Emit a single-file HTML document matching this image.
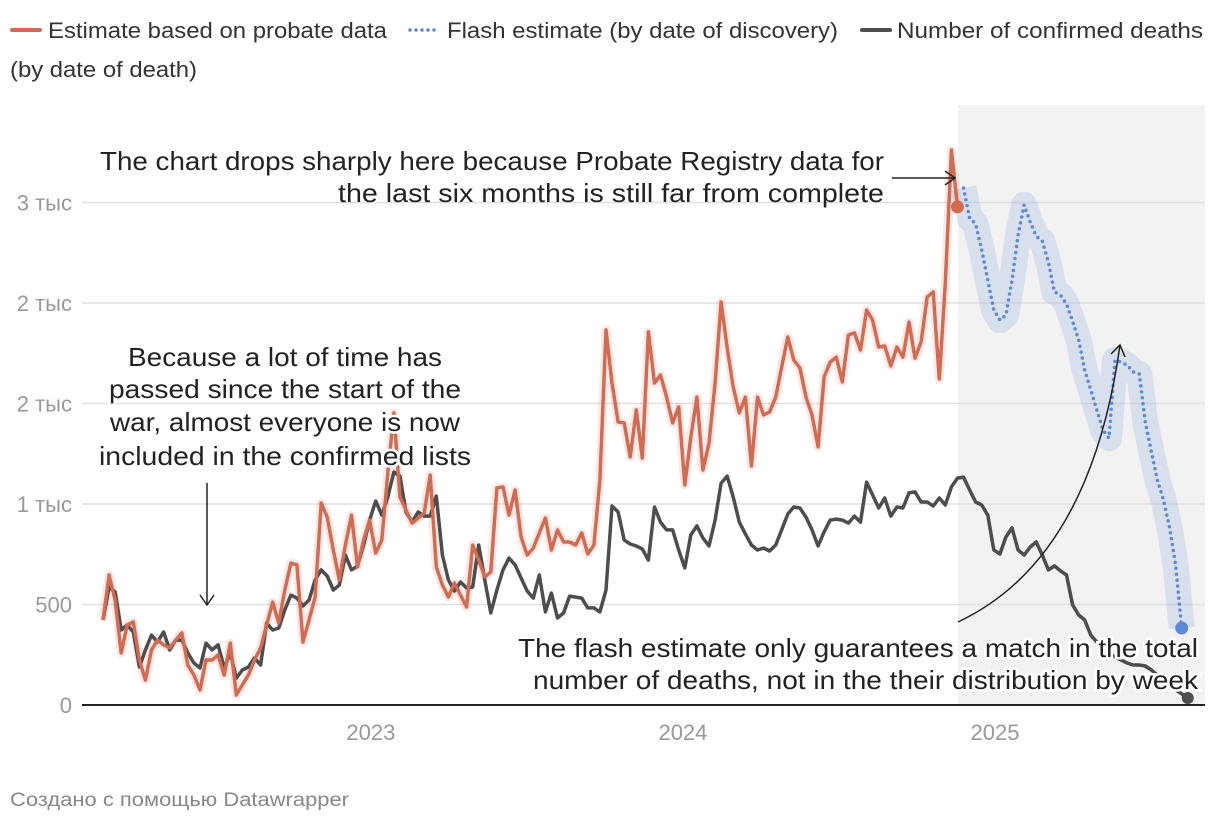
<!DOCTYPE html>
<html><head><meta charset="utf-8"><style>
html,body{margin:0;padding:0;background:#fff;}
svg{display:block;font-family:"Liberation Sans",sans-serif;}
</style></head><body>
<svg id="chart" width="1220" height="822" viewBox="0 0 1220 822" xmlns="http://www.w3.org/2000/svg">
<g id="legend">
  <g>
    <line x1="12" y1="30" x2="40" y2="30" stroke="#d36b52" stroke-width="4" stroke-linecap="round"/>
    <text x="48" y="38" font-size="22" fill="#333" textLength="339" lengthAdjust="spacingAndGlyphs">Estimate based on probate data</text>
    <text x="10" y="77" font-size="22" fill="#333" textLength="187" lengthAdjust="spacingAndGlyphs">(by date of death)</text>
  </g>
  <g>
    <line x1="410" y1="30" x2="440" y2="30" stroke="#5b8ad8" stroke-width="3.5" stroke-linecap="round" stroke-dasharray="0 6"/>
    <text x="447" y="38" font-size="22" fill="#333" textLength="391" lengthAdjust="spacingAndGlyphs">Flash estimate (by date of discovery)</text>
  </g>
  <g>
    <line x1="862" y1="30" x2="890" y2="30" stroke="#4d4d4d" stroke-width="4" stroke-linecap="round"/>
    <text x="897" y="38" font-size="22" fill="#333" textLength="306" lengthAdjust="spacingAndGlyphs">Number of confirmed deaths</text>
  </g>
</g>
<rect x="958" y="105" width="247" height="600" fill="#f2f2f2"/>
<g id="grid"></g>
<g id="xaxis"></g>
<g id="marks"></g>
<g id="annotations">
  <text font-size="26" fill="#222" text-anchor="end"><tspan x="884" y="170" textLength="784" lengthAdjust="spacingAndGlyphs">The chart drops sharply here because Probate Registry data for</tspan><tspan x="884" y="202" textLength="546" lengthAdjust="spacingAndGlyphs">the last six months is still far from complete</tspan></text>
  <line x1="892" y1="178" x2="955" y2="178" stroke="#222" stroke-width="1.5"/>
  <polyline points="945,171 955,178 945,185" fill="none" stroke="#222" stroke-width="1.5"/>
  <text font-size="26" fill="#222" text-anchor="middle" stroke="#fff" stroke-width="5" paint-order="stroke"><tspan x="285" y="366" textLength="314" lengthAdjust="spacingAndGlyphs">Because a lot of time has</tspan><tspan x="285" y="398" textLength="352" lengthAdjust="spacingAndGlyphs">passed since the start of the</tspan><tspan x="285" y="431" textLength="350" lengthAdjust="spacingAndGlyphs">war, almost everyone is now</tspan><tspan x="285" y="465" textLength="372" lengthAdjust="spacingAndGlyphs">included in the confirmed lists</tspan></text>
  <line x1="207" y1="483" x2="207" y2="605" stroke="#222" stroke-width="1.5"/>
  <polyline points="200,595 207,605 214,595" fill="none" stroke="#222" stroke-width="1.5"/>
  <path d="M958,622 Q1090,560 1120,345" fill="none" stroke="#222" stroke-width="1.5"/>
  <polyline points="1111,354 1120,345 1125,357" fill="none" stroke="#222" stroke-width="1.5"/>
  <text font-size="26" fill="#222" text-anchor="end" stroke="#fff" stroke-width="5" paint-order="stroke"><tspan x="1198" y="657" textLength="680" lengthAdjust="spacingAndGlyphs">The flash estimate only guarantees a match in the total</tspan><tspan x="1198" y="689" textLength="665" lengthAdjust="spacingAndGlyphs">number of deaths, not in the their distribution by week</tspan></text>
</g>
<text x="10" y="806" font-size="19" fill="#888" textLength="339" lengthAdjust="spacingAndGlyphs">Создано с помощью Datawrapper</text>
</svg>
<script>
const yTickValues = [0, 500, 1000, 1500, 2000, 2500];
const yTickLabels = ["0", "500", "1 тыс", "2 тыс", "2 тыс", "3 тыс"];
const xTickWeeks = [44.2, 95.7, 147.2];
const xTickLabels = ["2023", "2024", "2025"];
const probateValues = [423,647,522,259,398,413,224,124,274,323,299,284,323,358,199,149,75,224,224,249,149,308,50,100,149,224,284,
398,512,408,572,706,697,313,423,537,1005,935,771,622,796,945,687,821,920,756,821,1154,1453,1035,970,905,930,955,1144,687,597,537,607,547,488,796,721,637,662,1080,1085,945,1070,836,746,781,856,930,771,871,811,811,796,856,751,796,1119,1866,1602,1408,1403,1234,1468,1229,1856,1602,1642,1532,1403,1483,1095,1333,1532,1169,1303,1602,2005,1776,1582,1453,1532,1189,1532,1443,1458,1532,1682,1831,1716,1677,1532,1443,1284,1632,1706,1731,1607,1841,1851,1766,1965,1915,1781,1786,1687,1781,1731,1905,1726,1806,2030,2055,1622,2099,2761,2478];
const confirmedValues = [423,587,562,373,398,363,189,274,348,313,363,274,323,323,259,209,184,308,274,299,184,259,134,174,189,234,199,408,373,383,473,547,532,493,522,622,672,642,572,597,746,672,692,796,920,1015,945,1035,1159,1139,960,910,960,940,940,1040,746,622,567,612,582,587,796,622,458,572,672,731,697,632,567,532,647,463,557,433,458,542,537,532,483,483,463,572,990,960,821,801,791,776,721,985,910,871,871,771,682,846,891,831,791,920,1104,1139,1035,910,851,796,771,781,766,796,871,950,985,980,935,871,791,861,920,925,920,905,940,910,1109,1045,980,1030,940,985,980,1055,1060,1010,1010,990,1030,995,1085,1129,1134,1070,1010,995,945,771,751,836,881,771,746,786,811,746,672,692,667,647,498,448,423,348,313,284,259,239,224,209,199,199,194,174,149,124,100,75,55,35];
const flashStartWeek = 142;
const flashValues = [2572,2423,2393,2264,2114,1965,1915,1940,2114,2338,2488,2403,2333,2308,2204,2055,2040,1995,1910,1816,1666,1567,1468,1368,1328,1716,1706,1691,1657,1647,1408,1259,1119,1020,881,697,383];

const NS = "http://www.w3.org/2000/svg";
function xScale(w){ return 103 + w * 6.06; }
function yScale(v){ return 705 - v * 100.5 / 500; }
function mk(tag, attrs, parent){ const e = document.createElementNS(NS, tag); for (const k in attrs) e.setAttribute(k, attrs[k]); parent.appendChild(e); return e; }

const grid = document.getElementById('grid');
yTickValues.forEach((v, i) => {
  const y = yScale(v);
  if (v !== 0) {
    const gl = mk('line', {x1: 82, x2: 1205, y1: y, y2: y, stroke: '#e0e0e0', 'stroke-width': 1.5}, grid);
    
    
  }
  const t = mk('text', {x: 72, y: y + 8, 'font-size': 22, fill: '#999', 'text-anchor': 'end'}, grid);
  
  
  t.textContent = yTickLabels[i];
});
const xa = document.getElementById('xaxis');
xTickWeeks.forEach((w, i) => {
  const t = mk('text', {x: xScale(w), y: 740, 'font-size': 22, fill: '#999', 'text-anchor': 'middle'}, xa);
  
  
  t.textContent = xTickLabels[i];
});

const marks = document.getElementById('marks');
function pts(vals, start){ return vals.map((v, i) => xScale(start + i).toFixed(1) + ',' + yScale(v).toFixed(1)).join(' '); }

const fb = mk('polyline', {points: pts(flashValues, flashStartWeek), fill: 'none', stroke: 'rgba(90,130,215,0.17)', 'stroke-width': 26, 'stroke-linejoin': 'round', 'stroke-linecap': 'butt'}, marks);


const pb = mk('polyline', {points: pts(probateValues, 0), fill: 'none', stroke: 'rgba(214,110,85,0.15)', 'stroke-width': 9, 'stroke-linejoin': 'round'}, marks);



const baseline = mk('line', {x1: 82, x2: 1205, y1: 705, y2: 705, stroke: '#222', 'stroke-width': 2}, marks);



const cl = mk('polyline', {points: pts(confirmedValues, 0), fill: 'none', stroke: '#4d4d4d', 'stroke-width': 3.5, 'stroke-linejoin': 'round'}, marks);


const cLast = confirmedValues.length - 1;
const cd = mk('circle', {cx: xScale(cLast), cy: yScale(confirmedValues[cLast]), r: 6, fill: '#4d4d4d'}, marks);



const pl = mk('polyline', {points: pts(probateValues, 0), fill: 'none', stroke: '#d36b52', 'stroke-width': 3.5, 'stroke-linejoin': 'round'}, marks);


const pLast = probateValues.length - 1;
const pd = mk('circle', {cx: xScale(pLast), cy: yScale(probateValues[pLast]), r: 6.5, fill: '#d36b52'}, marks);



const fl = mk('polyline', {points: pts(flashValues, flashStartWeek), fill: 'none', stroke: '#5b8ad8', 'stroke-width': 3.5, 'stroke-linecap': 'round', 'stroke-dasharray': '0 6', 'stroke-linejoin': 'round'}, marks);


const fLast = flashValues.length - 1;
const fd = mk('circle', {cx: xScale(flashStartWeek + fLast), cy: yScale(flashValues[fLast]), r: 6.5, fill: '#5b8ad8'}, marks);


</script>
</body></html>
